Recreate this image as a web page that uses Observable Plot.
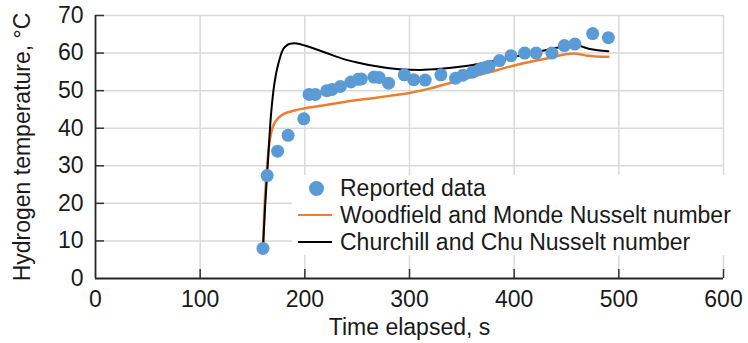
<!DOCTYPE html>
<html>
<head>
<meta charset="utf-8">
<script src="https://cdn.jsdelivr.net/npm/d3@7"></script>
<script src="https://cdn.jsdelivr.net/npm/@observablehq/plot@0.6"></script>
<style>
  html, body { margin: 0; padding: 0; background: #fff; }
  #wrap { position: relative; width: 748px; height: 343px; font-family: "Liberation Sans", Arial, sans-serif; }
  #legend { position: absolute; left: 292px; top: 175px; width: 446px; height: 80px; background: #fff; }
  .row { position: absolute; left: 0; height: 27px; display: flex; align-items: center; font-size: 23px; color: #1a1a1a; white-space: nowrap; }
  .sym { width: 48px; height: 27px; position: relative; }
  .dot { position: absolute; left: 17px; top: 6px; width: 15px; height: 15px; border-radius: 50%; background: #5b9bd5; }
  .ln { position: absolute; left: 6px; top: 12px; width: 34px; height: 0; }
</style>
</head>
<body>
<div id="wrap"></div>
<script>
// ---- data ----
const xTicks = [0, 100, 200, 300, 400, 500, 600];
const yTicks = [0, 10, 20, 30, 40, 50, 60, 70];

const reportedTime = [160, 164, 174, 184, 199, 204, 210, 221, 226, 234, 244, 251, 254, 266, 271, 280, 295, 304, 315, 330, 344, 351, 360, 368, 373, 376, 386, 397, 410, 421, 436, 448, 458, 475, 490];
const reportedTemp = [8, 27.4, 33.9, 38.1, 42.5, 49, 49, 50, 50.3, 51.1, 52.3, 53, 53.1, 53.6, 53.5, 52, 54.2, 52.9, 52.8, 54.2, 53.3, 54.1, 54.9, 55.8, 56.2, 56.5, 58, 59.3, 60, 60, 60, 62, 62.4, 65.2, 64.1];

const woodTime = [160, 162, 163.5, 166, 168, 171, 175, 180, 190, 200, 220, 245, 265, 285, 300, 320, 350, 375, 400, 430, 457, 470, 490];
const woodTemp = [8, 22, 28, 35.8, 39, 41.3, 42.8, 43.8, 44.7, 45.3, 46.2, 47.3, 48, 48.8, 49.4, 50.6, 52.9, 54.8, 56.7, 58.5, 59.9, 59.3, 59];

const churchTime = [160, 162, 164.5, 167.5, 170, 172.5, 175, 178.5, 182, 186, 190, 195, 200, 210, 220, 235, 250, 270, 290, 310, 330, 350, 370, 400, 425, 445, 457, 472, 490];
const churchTemp = [8, 19, 30, 43, 50, 54.5, 57.5, 60.6, 61.9, 62.5, 62.6, 62.4, 62, 61.1, 60.1, 58.6, 57.5, 56.4, 55.7, 55.5, 55.8, 56.4, 57.3, 59, 60.5, 61.6, 62.2, 61.1, 60.5];

const legendLabels = ["Reported data", "Woodfield and Monde Nusselt number", "Churchill and Chu Nusselt number"];

// ---- build tables ----
const reported = reportedTime.map((t, i) => ({t, v: reportedTemp[i]}));
const wood = woodTime.map((t, i) => ({t, v: woodTemp[i]}));
const church = churchTime.map((t, i) => ({t, v: churchTemp[i]}));

const W = 748, H = 343, mL = 95, mR = 25, mT = 15, mB = 65;
const plotW = W - mL - mR, plotH = H - mT - mB;

const chart = Plot.plot({
  width: W, height: H,
  marginLeft: mL, marginRight: mR, marginTop: mT, marginBottom: mB,
  style: {fontFamily: "'Liberation Sans', Arial, sans-serif", fontSize: "23px", color: "#1a1a1a", background: "#fff", overflow: "visible"},
  x: {domain: [0, 600]},
  y: {domain: [0, 70]},
  marks: [
    Plot.gridX(xTicks.slice(1), {stroke: "#d9d9d9", strokeOpacity: 1, strokeWidth: 1.5}),
    Plot.gridY(yTicks.slice(1), {stroke: "#d9d9d9", strokeOpacity: 1, strokeWidth: 1.5}),
    // inward tick marks
    Plot.gridX(xTicks.slice(1), {stroke: "#333", strokeOpacity: 1, strokeWidth: 1.5, insetTop: plotH - 9}),
    Plot.gridY(yTicks.slice(1), {stroke: "#333", strokeOpacity: 1, strokeWidth: 1.5, insetRight: plotW - 9}),
    Plot.axisX(xTicks, {tickSize: 0, tickPadding: 12, label: "Time elapsed, s", labelAnchor: "center", labelOffset: 56, labelArrow: "none"}),
    Plot.axisY(yTicks, {tickSize: 0, tickPadding: 12, label: "Hydrogen temperature, °C", labelAnchor: "center", labelOffset: 82, labelArrow: "none"}),
    Plot.ruleX([0], {stroke: "#262626", strokeWidth: 1.8}),
    Plot.ruleY([0], {stroke: "#262626", strokeWidth: 1.8}),
    Plot.line(wood, {x: "t", y: "v", stroke: "#ed7d31", strokeWidth: 2.5, curve: "monotone-x"}),
    Plot.line(church, {x: "t", y: "v", stroke: "#000", strokeWidth: 2, curve: "monotone-x"}),
    Plot.dot(reported, {x: "t", y: "v", r: 6.5, fill: "#5b9bd5", stroke: "none"})
  ]
});

const wrap = document.getElementById("wrap");
wrap.appendChild(chart);

// legend
const legend = document.createElement("div");
legend.id = "legend";
const colors = [null, "#ed7d31", "#000"];
const widths = [0, 2.5, 2];
legendLabels.forEach((lab, i) => {
  const row = document.createElement("div");
  row.className = "row";
  row.style.top = (i * 27) + "px";
  const sym = document.createElement("div");
  sym.className = "sym";
  if (i === 0) {
    const d = document.createElement("div"); d.className = "dot"; sym.appendChild(d);
  } else {
    const l = document.createElement("div"); l.className = "ln";
    l.style.borderTop = widths[i] + "px solid " + colors[i];
    sym.appendChild(l);
  }
  const txt = document.createElement("span");
  txt.textContent = lab;
  row.appendChild(sym);
  row.appendChild(txt);
  legend.appendChild(row);
});
wrap.appendChild(legend);
</script>
</body>
</html>
